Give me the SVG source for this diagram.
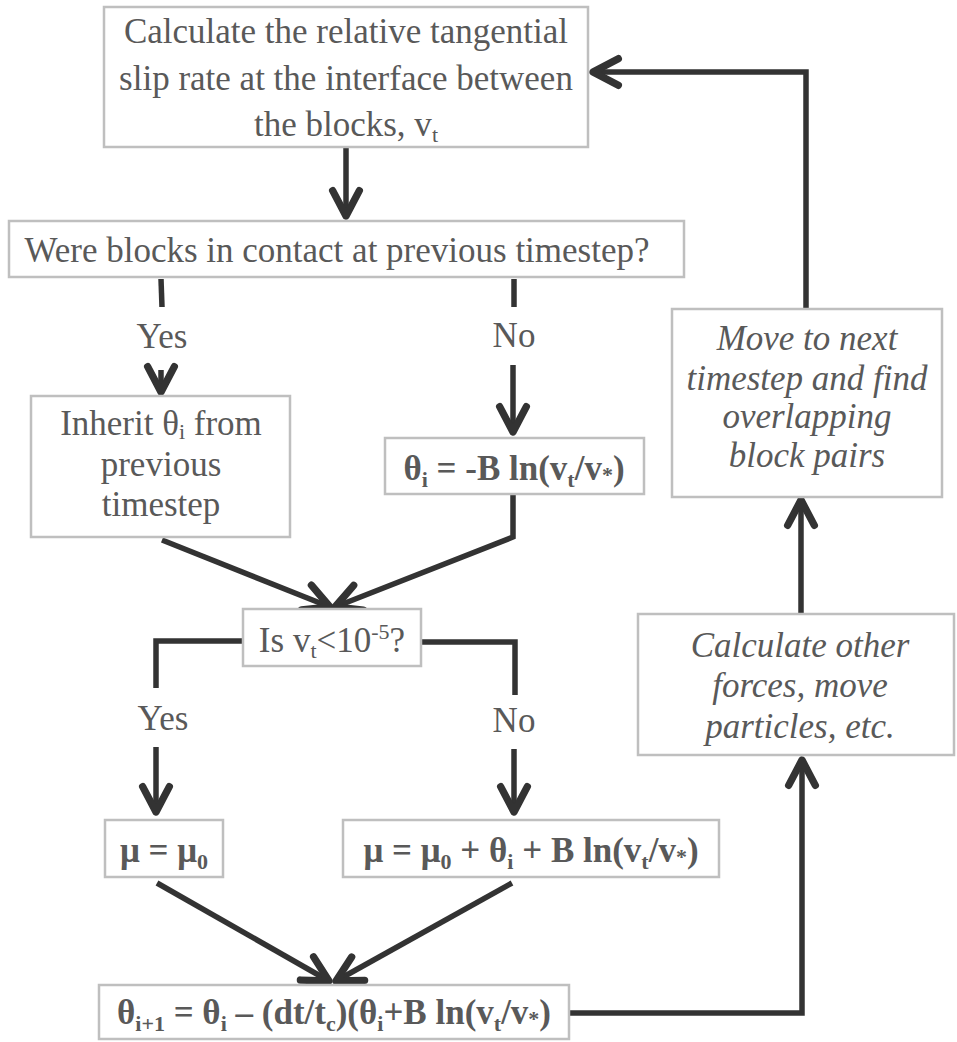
<svg xmlns="http://www.w3.org/2000/svg" width="957" height="1042" viewBox="0 0 957 1042">
<style>
.box{fill:#ffffff;stroke:#bfbfbf;stroke-width:2.5}
.t{font-family:"Liberation Serif","Times New Roman",serif;font-size:35px;fill:#595959;text-anchor:middle}
.b{font-weight:bold}
.i{font-style:italic}
.s{font-size:22px}
.c{fill:none;stroke:#333333;stroke-width:5.5;stroke-linecap:butt;stroke-linejoin:miter}
</style>
<defs>
<marker id="ah" markerUnits="userSpaceOnUse" markerWidth="40" markerHeight="40" viewBox="-25 -15 30 30" refX="0" refY="0" orient="auto" overflow="visible">
<path d="M-19,-10 L0,0 L-19,10" fill="none" stroke="#333333" stroke-width="5.5" stroke-linecap="round" stroke-linejoin="round"/>
</marker>
</defs>
<rect width="957" height="1042" fill="#ffffff"/>
<g id="connectors">
<path class="c" d="M346,148 L346,216" marker-end="url(#ah)"/>
<path class="c" d="M161,279 L162,307"/>
<path class="c" d="M161,370 L161,392" marker-end="url(#ah)"/>
<path class="c" d="M514,279 L514,307"/>
<path class="c" d="M513,365 L513,432" marker-end="url(#ah)"/>
<path class="c" d="M162,540 L330,607" marker-end="url(#ah)"/>
<path class="c" d="M513,495 L513,537 L335,607" marker-end="url(#ah)"/>
<path class="c" d="M243,641 L156,641 L156,688"/>
<path class="c" d="M156,747 L156,812" marker-end="url(#ah)"/>
<path class="c" d="M421,642 L515,642 L515,695"/>
<path class="c" d="M514,749 L514,812" marker-end="url(#ah)"/>
<path class="c" d="M157,883 L329,981" marker-end="url(#ah)"/>
<path class="c" d="M512,883 L336,981" marker-end="url(#ah)"/>
<path class="c" d="M569,1013 L802,1013 L802,760" marker-end="url(#ah)"/>
<path class="c" d="M801,614 L801,500" marker-end="url(#ah)"/>
<path class="c" d="M806,308 L806,72 L593,72" marker-end="url(#ah)"/>
</g>
<g id="n_calc_slip">
<rect class="box" x="104" y="7" width="484" height="140"/>
<text class="t" x="346" y="43">Calculate the relative tangential</text>
<text class="t" x="346" y="90">slip rate at the interface between</text>
<text class="t" x="346" y="136">the blocks, v<tspan class="s" dy="6">t</tspan></text>
</g>
<g id="n_contact">
<rect class="box" x="9" y="221" width="675" height="56"/>
<text class="t" x="337" y="262">Were blocks in contact at previous timestep?</text>
</g>
<g id="lbl_yes1"><text class="t" x="162" y="348">Yes</text></g>
<g id="lbl_no1"><text class="t" x="514" y="347">No</text></g>
<g id="n_inherit">
<rect class="box" x="31" y="396" width="259" height="141"/>
<text class="t" x="161" y="435">Inherit θ<tspan class="s" dy="4">i</tspan><tspan dy="-4"> from</tspan></text>
<text class="t" x="161" y="476">previous</text>
<text class="t" x="161" y="516">timestep</text>
</g>
<g id="n_theta">
<rect class="box" x="385" y="438" width="259" height="56"/>
<text class="t b" x="514" y="480">θ<tspan class="s" dy="7">i</tspan><tspan dy="-7"> = -B ln(v</tspan><tspan class="s" dy="7">t</tspan><tspan dy="-7">/v</tspan><tspan class="s" dy="2">*</tspan><tspan dy="-2">)</tspan></text>
</g>
<g id="n_is">
<rect class="box" x="243" y="609" width="178" height="57"/>
<text class="t" x="332" y="652">Is v<tspan class="s" dy="6">t</tspan><tspan dy="-6">&lt;10</tspan><tspan class="s" dy="-13">-5</tspan><tspan dy="13">?</tspan></text>
</g>
<g id="lbl_yes2"><text class="t" x="163" y="730">Yes</text></g>
<g id="lbl_no2"><text class="t" x="514" y="732">No</text></g>
<g id="n_mu0">
<rect class="box" x="105" y="820" width="118" height="57"/>
<text class="t b" x="164" y="862">μ = μ<tspan class="s" dy="7">0</tspan></text>
</g>
<g id="n_mu">
<rect class="box" x="343" y="820" width="376" height="57"/>
<text class="t b" x="531" y="862">μ = μ<tspan class="s" dy="7">0</tspan><tspan dy="-7"> + θ</tspan><tspan class="s" dy="7">i</tspan><tspan dy="-7"> + B ln(v</tspan><tspan class="s" dy="7">t</tspan><tspan dy="-7">/v</tspan><tspan class="s" dy="2">*</tspan><tspan dy="-2">)</tspan></text>
</g>
<g id="n_update">
<rect class="box" x="99" y="985" width="470" height="54"/>
<text class="t b" x="334" y="1024">θ<tspan class="s" dy="7">i+1</tspan><tspan dy="-7"> = θ</tspan><tspan class="s" dy="7">i</tspan><tspan dy="-7"> – (dt/t</tspan><tspan class="s" dy="7">c</tspan><tspan dy="-7">)(θ</tspan><tspan class="s" dy="7">i</tspan><tspan dy="-7">+B ln(v</tspan><tspan class="s" dy="7">t</tspan><tspan dy="-7">/v</tspan><tspan class="s" dy="2">*</tspan><tspan dy="-2">)</tspan></text>
</g>
<g id="n_other">
<rect class="box" x="638" y="614" width="316" height="141"/>
<text class="t i" x="800" y="657">Calculate other</text>
<text class="t i" x="800" y="697">forces, move</text>
<text class="t i" x="800" y="738">particles, etc.</text>
</g>
<g id="n_next">
<rect class="box" x="672" y="309" width="270" height="188"/>
<text class="t i" x="807" y="350">Move to next</text>
<text class="t i" x="807" y="390">timestep and find</text>
<text class="t i" x="807" y="428">overlapping</text>
<text class="t i" x="807" y="467">block pairs</text>
</g>
</svg>
